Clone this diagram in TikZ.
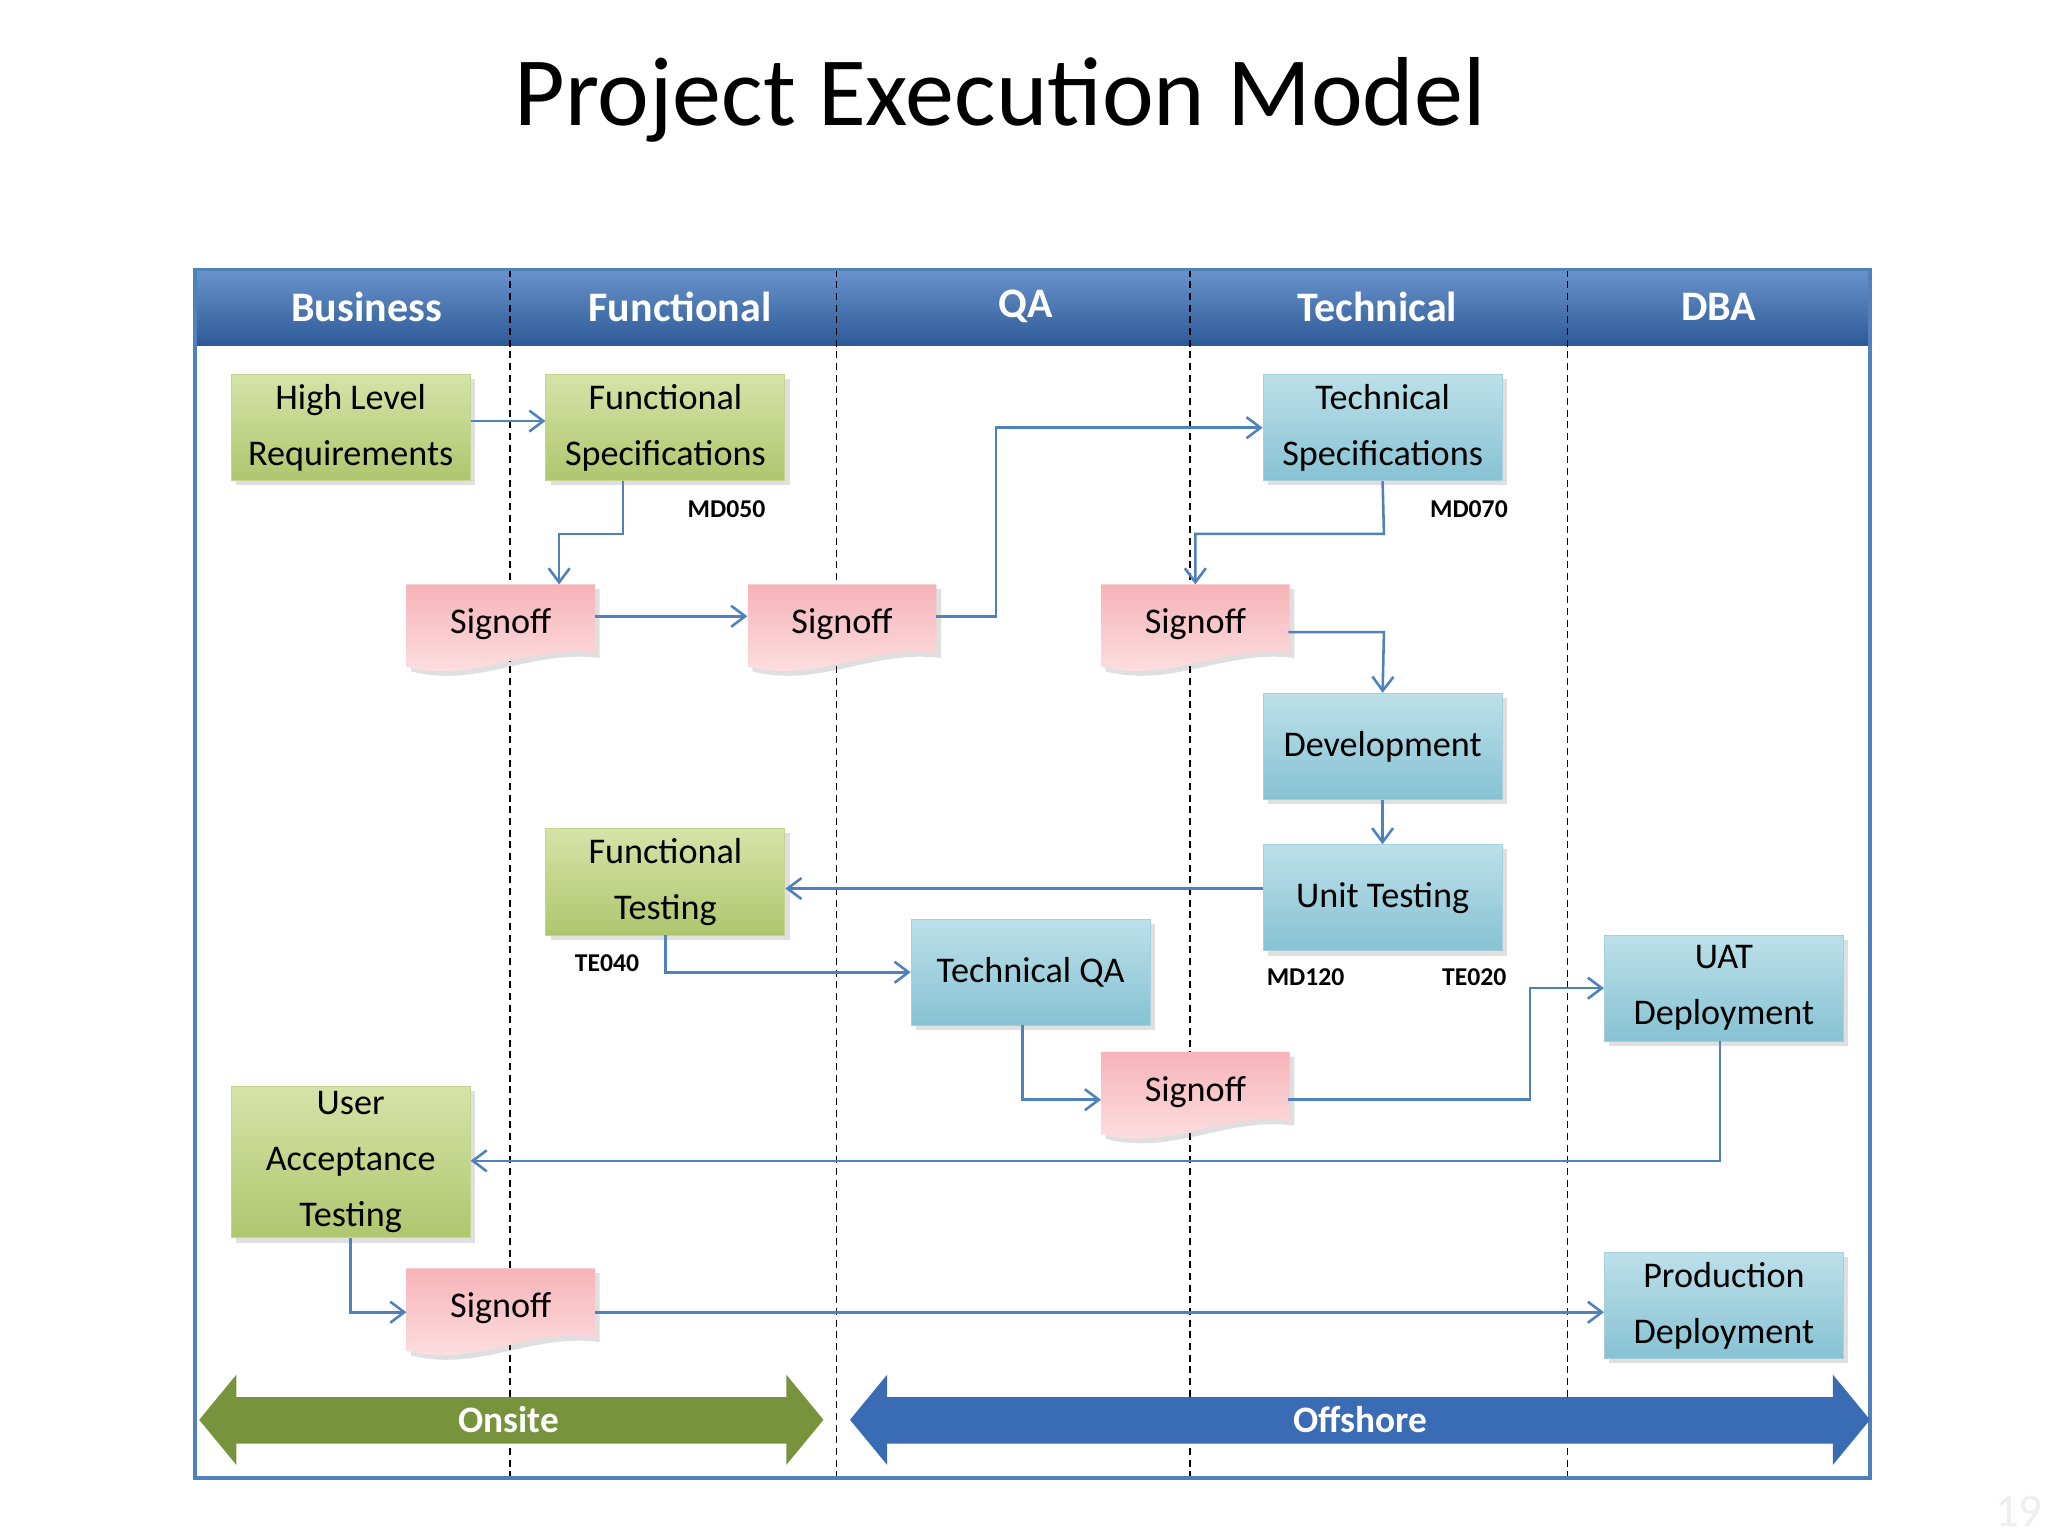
\documentclass[tikz,border=0pt]{standalone}
\usepackage{fontspec}
\setmainfont{Carlito}
\usetikzlibrary{arrows.meta,calc,shadows}
\definecolor{ln}{HTML}{4F81BD}
\definecolor{gT}{HTML}{D6E3A8}\definecolor{gB}{HTML}{AFC66E}\definecolor{gD}{HTML}{C4D48E}
\definecolor{bT}{HTML}{BCE0EA}\definecolor{bB}{HTML}{86C2D3}\definecolor{bD}{HTML}{A3D0DC}
\definecolor{pT}{HTML}{F7B3B8}\definecolor{pB}{HTML}{FCE4E6}
\definecolor{hT}{HTML}{6A93CC}\definecolor{hB}{HTML}{2D5A96}
\definecolor{onc}{HTML}{77933C}\definecolor{offc}{HTML}{3A6BB5}\definecolor{pgc}{HTML}{EEEEEE}
\begin{document}
\begin{tikzpicture}[x=0.02cm,y=-0.02cm,
 box/.style={minimum width=3.6cm,minimum height=1.6cm,align=center,font=\fontsize{15.5}{24}\selectfont,inner sep=2pt,drop shadow={opacity=0.25,shadow xshift=2pt,shadow yshift=-2pt}},
 green/.style={box,top color=gT,bottom color=gB,draw=gD},
 blue/.style={box,top color=bT,bottom color=bB,draw=bD},
 sigt/.style={minimum width=2.84cm,minimum height=1.2cm,font=\fontsize{15.5}{20}\selectfont},
 con/.style={draw=ln,line width=1.1pt,-{Straight Barb[length=6pt,width=9pt]}},
 lab/.style={font=\bfseries\fontsize{11}{14}\selectfont},
 hdr/.style={text=white,font=\bfseries\fontsize{18}{22}\selectfont}]
\newcommand\sig[2]{%
 \coordinate (#1c) at (#2);
 \shade[top color=pT,bottom color=pB,drop shadow={opacity=0.25,shadow xshift=2pt,shadow yshift=-2pt}]
 ($(#1c)+(-71,-30)$) -- ($(#1c)+(71,-30)$) -- ($(#1c)+(71,22)$) .. controls ($(#1c)+(20,15)$) and ($(#1c)+(-20,45)$) .. ($(#1c)+(-71,32)$) -- cycle;
 \node[sigt] (#1) at (#2) {Signoff};}
\fill[white] (0,0) rectangle (1542,1157);
\useasboundingbox (0,0) rectangle (1542,1157);
\node[font=\fontsize{42}{46}\selectfont] (title) at (753,75) {Project Execution Model};
% header
\shade[top color=hT,bottom color=hB] (147,203) rectangle (1408,260);
\foreach \x in {384,630,896,1180} \draw[black,densely dashed,line width=0.6pt] (\x,203) -- (\x,1113);
\draw[ln,line width=1.5pt] (147,203) rectangle (1408,1113);
\node[hdr] (h1) at (276,231) {Business};
\node[hdr] (h2) at (512,231) {Functional};
\node[hdr] (h3) at (772,231) {QA};
\node[hdr] (h4) at (1037,231) {Technical};
\node[hdr] (h5) at (1294,231) {DBA};
% nodes
\node[green] (hlr) at (264,322) {High Level\\Requirements};
\node[green] (fs) at (501,322) {Functional\\Specifications};
\node[blue] (ts) at (1041,322) {Technical\\Specifications};
\sig{s1}{377,470}
\sig{s2}{634,470}
\sig{s3}{900,470}
\node[blue] (dev) at (1041,562) {Development};
\node[blue] (ut) at (1041,676) {Unit Testing};
\node[green] (ft) at (501,664) {Functional\\Testing};
\node[blue] (tqa) at (776,732) {Technical QA};
\sig{s4}{900,822}
\node[blue] (uat) at (1298,744) {UAT\\Deployment};
\node[green,minimum height=2.28cm] (uact) at (264,875) {User\\Acceptance\\Testing};
\sig{s5}{377,985}
\node[blue] (pd) at (1298,983) {Production\\Deployment};
\node[lab] (l1) at (547,383) {MD050};
\node[lab] (l2) at (1106,383) {MD070};
\node[lab] (l3) at (457,725) {TE040};
\node[lab] (l4) at (983,736) {MD120};
\node[lab] (l5) at (1110,736) {TE020};
% connectors
\draw[con] (hlr.east|-0,317) -- (fs.west|-0,317);
\draw[con] (469,362) -- (469,402) -- (421,402) -- (421,440);
\draw[con] (s1.east|-0,464) -- (s2.west|-0,464);
\draw[con] (705,464) -- (750,464) -- (750,322) -- (ts.west);
\draw[con] (ts.south) -- (1042,402) -- (900,402) -- (900,440);
\draw[con] (970,476) -- (1042,476) -- (dev.north);
\draw[con] (dev) -- (ut);
\draw[con] (ut.west|-0,669) -- (ft.east|-0,669);
\draw[con] (ft.south) -- (501,732) -- (tqa.west);
\draw[con] (770,772) -- (770,828) -- (829,828);
\draw[con] (970,828) -- (1152,828) -- (1152,744) -- (uat.west);
\draw[con] (1295,784) -- (1295,874) -- (uact.east|-0,874);
\draw[con] (uact.south) -- (264,988) -- (306,988);
\draw[con] (448,988) -- (pd.west|-0,988);
% big arrows
\fill[onc] (150,1069) -- (178,1035) -- (178,1052) -- (592,1052) -- (592,1035) -- (620,1069) -- (592,1103) -- (592,1087) -- (178,1087) -- (178,1103) -- cycle;
\fill[offc] (640,1069) -- (668,1035) -- (668,1052) -- (1380,1052) -- (1380,1035) -- (1408,1069) -- (1380,1103) -- (1380,1087) -- (668,1087) -- (668,1103) -- cycle;
\node[hdr,font=\bfseries\fontsize{16}{20}\selectfont] (on) at (383,1069) {Onsite};
\node[hdr,font=\bfseries\fontsize{16}{20}\selectfont] (off) at (1024,1069) {Offshore};
\node[text=pgc,font=\fontsize{20}{24}\selectfont] (pg) at (1520,1138) {19};
\end{tikzpicture}
\end{document}
